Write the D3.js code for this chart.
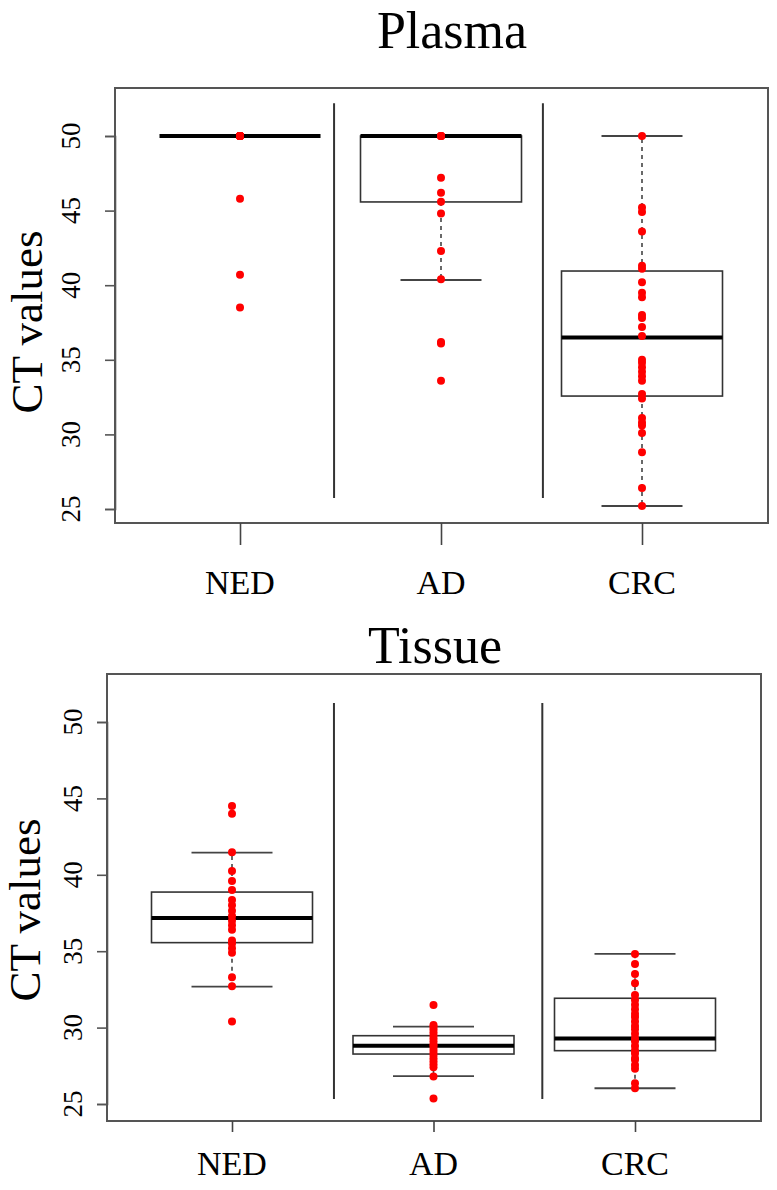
<!DOCTYPE html>
<html><head><meta charset="utf-8">
<script src="https://cdn.jsdelivr.net/npm/d3@7/dist/d3.min.js"></script>
<style>body{margin:0;background:#fff}svg{display:block}text{font-family:"Liberation Serif","Times New Roman",serif;fill:#000}</style>
</head><body><svg id="c" width="777" height="1190"></svg>
<script>
const categories = ["NED","AD","CRC"];
const yTicks = [25,30,35,40,45,50];
const titles = ["Plasma","Tissue"];
const yLabel = "CT values";

// Plasma points
const plasmaNED = [50,50,50,50,50,50,50,50,50,50,45.8,40.7,38.5];
const plasmaAD = [50,50,50,50,47.2,46.2,45.6,44.8,42.3,40.4,36.2,36.1,33.6];
const plasmaCRC = [50,45.2,44.9,43.6,41.3,41.1,40.2,39.5,39.2,38.0,37.8,37.2,36.6,35.0,34.8,34.5,34.2,33.9,33.6,32.7,32.4,31.1,30.8,30.6,30.1,28.8,26.4,25.2];
// Plasma box stats: [lowerWhisker, q1, median, q3, upperWhisker]
const plasmaStatsNED = [50,50,50,50,50];
const plasmaStatsAD = [40.35,45.58,50,50,50];
const plasmaStatsCRC = [25.2,32.57,36.5,40.95,50];

// Tissue points
const tissueNED = [30.4,32.7,33.3,34.9,35.2,35.5,35.7,36.4,36.7,37.0,37.3,37.65,38.0,38.35,39.0,39.6,40.25,41.47,44.0,44.5];
const tissueAD = [25.36,26.8,27.4,27.6,27.8,28.0,28.2,28.4,28.6,28.8,28.9,29.1,29.3,29.5,29.7,29.9,30.06,30.17,31.48];
const tissueCRC = [26.03,26.35,27.3,27.55,27.9,28.0,28.3,28.5,28.8,29.1,29.3,29.6,29.9,30.1,30.4,30.7,30.9,31.2,31.5,31.8,32.13,32.9,33.51,34.16,34.82];
const tissueStatsNED = [32.68,35.56,37.17,38.87,41.45];
const tissueStatsAD = [26.83,28.27,28.82,29.47,30.06];
const tissueStatsCRC = [26.03,28.49,29.29,31.92,34.82];

// separator positions (in category index units) and vertical extents (data units)
const plasmaSeparators = [0.468, 1.507];
const tissueSeparators = [0.506, 1.54];
const plasmaSepRange = [25.74, 52.2];
const tissueSepRange = [25.33, 51.24];

const svg = d3.select("#c");

const panels = [
  {title: titles[0], points:[plasmaNED,plasmaAD,plasmaCRC], stats:[plasmaStatsNED,plasmaStatsAD,plasmaStatsCRC],
   seps: plasmaSeparators, sepRange: plasmaSepRange,
   frame:{l:115,r:768,t:88,b:523}, yRange:[509,136], xRange:[240,642],
   titleX:452, titleY:48, xTickLen:22, xLabY:594, yLabX:80, ctX:42, ctY:322},
  {title: titles[1], points:[tissueNED,tissueAD,tissueCRC], stats:[tissueStatsNED,tissueStatsAD,tissueStatsCRC],
   seps: tissueSeparators, sepRange: tissueSepRange,
   frame:{l:107,r:761,t:674,b:1121}, yRange:[1104,722], xRange:[232,635],
   titleX:435, titleY:663, xTickLen:11, xLabY:1175, yLabX:82, ctX:40, ctY:910}
];

const boxW = 161, capW = 81;

panels.forEach(p => {
  const g = svg.append("g");
  const y = d3.scaleLinear().domain([25,50]).range(p.yRange);
  const xi = d3.scaleLinear().domain([0,2]).range(p.xRange);
  const x = d3.scalePoint().domain(categories).range(p.xRange);
  const f = p.frame;

  // title
  g.append("text").attr("x",p.titleX).attr("y",p.titleY).attr("text-anchor","middle")
    .attr("font-size",52).text(p.title);

  // frame
  g.append("rect").attr("x",f.l).attr("y",f.t).attr("width",f.r-f.l).attr("height",f.b-f.t)
    .attr("fill","none").attr("stroke","#555").attr("stroke-width",2);

  // y axis
  const ya = d3.axisLeft(y).tickValues(yTicks).tickSize(10).tickFormat("");
  const yg = g.append("g").attr("transform",`translate(${f.l},0)`).call(ya);
  yg.selectAll("path,line").attr("stroke","#555").attr("stroke-width",1.6);
  yTicks.forEach(t => {
    g.append("text").attr("transform",`translate(${p.yLabX},${y(t)}) rotate(-90)`)
      .attr("text-anchor","middle").attr("font-size",27).text(t);
  });
  g.append("text").attr("transform",`translate(${p.ctX},${p.ctY}) rotate(-90)`)
    .attr("text-anchor","middle").attr("font-size",45).text(yLabel);

  // x axis
  const xa = d3.axisBottom(x).tickSize(p.xTickLen).tickSizeOuter(0).tickFormat("");
  const xg = g.append("g").attr("transform",`translate(0,${f.b})`).call(xa);
  xg.select("path").remove();
  xg.selectAll("line").attr("stroke","#444").attr("stroke-width",1.6);
  categories.forEach(c => {
    g.append("text").attr("x",x(c)).attr("y",p.xLabY).attr("text-anchor","middle")
      .attr("font-size",34).text(c);
  });

  // separators
  p.seps.forEach(s => {
    g.append("line").attr("x1",xi(s)).attr("x2",xi(s)).attr("y1",y(p.sepRange[0])).attr("y2",y(p.sepRange[1]))
      .attr("stroke","#333").attr("stroke-width",2);
  });

  // boxes
  categories.forEach((c,i) => {
    const [lo,q1,med,q3,hi] = p.stats[i];
    const cx = x(c);
    const bg = g.append("g");
    if (hi > q3) bg.append("line").attr("x1",cx).attr("x2",cx).attr("y1",y(q3)).attr("y2",y(hi))
      .attr("stroke","#444").attr("stroke-width",1.6).attr("stroke-dasharray","4,4");
    if (lo < q1) bg.append("line").attr("x1",cx).attr("x2",cx).attr("y1",y(q1)).attr("y2",y(lo))
      .attr("stroke","#444").attr("stroke-width",1.6).attr("stroke-dasharray","4,4");
    [lo,hi].forEach(v => bg.append("line").attr("x1",cx-capW/2).attr("x2",cx+capW/2)
      .attr("y1",y(v)).attr("y2",y(v)).attr("stroke","#444").attr("stroke-width",1.8));
    bg.append("rect").attr("x",cx-boxW/2).attr("y",y(q3)).attr("width",boxW).attr("height",Math.max(0,y(q1)-y(q3)))
      .attr("fill","none").attr("stroke","#333").attr("stroke-width",1.6);
    bg.append("line").attr("x1",cx-boxW/2).attr("x2",cx+boxW/2).attr("y1",y(med)).attr("y2",y(med))
      .attr("stroke","#000").attr("stroke-width",4);
  });

  // points
  categories.forEach((c,i) => {
    g.append("g").selectAll("circle").data(p.points[i]).join("circle")
      .attr("cx",x(c)).attr("cy",d=>y(d)).attr("r",4).attr("fill","#ff0000");
  });
});
</script></body></html>
